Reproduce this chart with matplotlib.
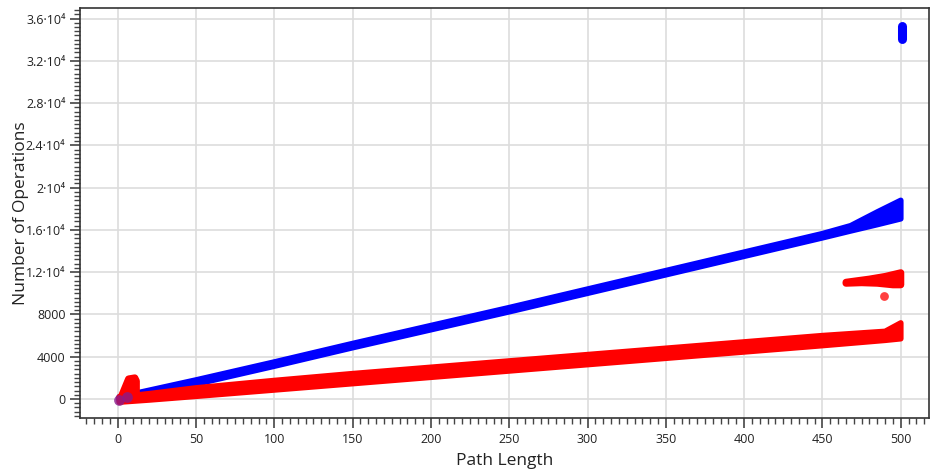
import numpy as np
import matplotlib.pyplot as plt
from matplotlib.ticker import MultipleLocator, FixedLocator

plt.rcParams['font.family'] = ['Open Sans', 'DejaVu Sans']

# blue series: main band (path length, lower / upper edge of the point cloud)
blue_x = [1, 50, 100, 150, 200, 250, 300, 350, 400, 450, 468, 485, 500]
blue_lo = [-100, 1400, 3100, 4850, 6550, 8250, 10000, 11750, 13500, 15250, 15900, 16500, 17050]
blue_hi = [200, 1800, 3500, 5250, 6950, 8650, 10400, 12150, 13900, 15650, 16400, 17700, 18800]
# blue outliers at the far right
blue_out_x = [501, 501]
blue_out_y = [34100, 35300]

# red series: main band
red_x = [1, 20, 50, 100, 150, 200, 250, 300, 350, 400, 450, 490, 500]
red_lo = [-300, -100, 250, 850, 1450, 2050, 2650, 3250, 3850, 4450, 5050, 5550, 5700]
red_hi = [200, 500, 1050, 1750, 2400, 3000, 3600, 4200, 4800, 5400, 6000, 6400, 7200]
# red spike at short paths
spike_x = [2, 7, 11, 12, 12]
spike_y = [100, 1900, 2000, 1700, 300]
# red cluster near path length 500
clus_x = [465, 480, 490, 500, 500, 495, 485, 475, 465]
clus_y = [11050, 11350, 11600, 11950, 10800, 10800, 10950, 11000, 10950]
red_single_x = [489]
red_single_y = [9700]

yticks = [0, 4000, 8000, 12000, 16000, 20000, 24000, 28000, 32000, 36000]
ylabels = ['0', '4000', '8000', '1.2·10⁴', '1.6·10⁴', '2·10⁴', '2.4·10⁴',
           '2.8·10⁴', '3.2·10⁴', '3.6·10⁴']

fig = plt.figure(figsize=(9.33, 4.69), dpi=100)
ax = fig.add_axes([80/933, 51/469, 849/933, 410/469])

ax.set_xlim(-24, 518)
ax.set_ylim(-1800, 37000)

ax.grid(True, color='#dddddd', linewidth=1.2, zorder=0)
ax.set_axisbelow(True)

blue = '#0000ff'
red = '#ff0000'

# blue band
ax.fill(np.r_[blue_x, blue_x[::-1]], np.r_[blue_lo, blue_hi[::-1]],
        facecolor=blue, edgecolor=blue, linewidth=4, joinstyle='round', zorder=2)
ax.plot(blue_out_x, blue_out_y, color=blue, linewidth=6.5,
        solid_capstyle='round', zorder=2)
ax.plot([1, 12], [200, 700], color='black', linewidth=0.8, zorder=3)

# red band, spike and cluster
ax.fill(np.r_[red_x, red_x[::-1]], np.r_[red_lo, red_hi[::-1]],
        facecolor=red, edgecolor=red, linewidth=4, joinstyle='round', zorder=4)
ax.fill(spike_x, spike_y, facecolor=red, edgecolor=red, linewidth=5,
        joinstyle='round', zorder=4)
ax.fill(clus_x, clus_y, facecolor=red, edgecolor=red, linewidth=5,
        joinstyle='round', zorder=4)
ax.scatter(red_single_x, red_single_y, s=40, color=red, alpha=0.75,
           linewidths=0, zorder=4)
ax.scatter([1, 6], [-100, 150], s=60, color='#8a1a8a', alpha=0.8,
           linewidths=0, zorder=5)

# ticks
ax.xaxis.set_major_locator(MultipleLocator(50))
ax.xaxis.set_minor_locator(MultipleLocator(5))
ax.yaxis.set_major_locator(FixedLocator(yticks))
ax.yaxis.set_minor_locator(MultipleLocator(400))
ax.set_yticklabels(ylabels)

ax.tick_params(which='major', direction='out', length=7, width=1.2,
               color='#444444', labelsize=9, labelcolor='#222222')
ax.tick_params(which='minor', direction='out', length=4, width=1,
               color='#444444')

for s in ax.spines.values():
    s.set_color('#333333')
    s.set_linewidth(1.2)

ax.set_xlabel('Path Length', fontsize=12.5, color='#222222', labelpad=5)
ax.set_ylabel('Number of Operations', fontsize=12.5, color='#222222', labelpad=-2)

fig.savefig('out.png', dpi=100)
